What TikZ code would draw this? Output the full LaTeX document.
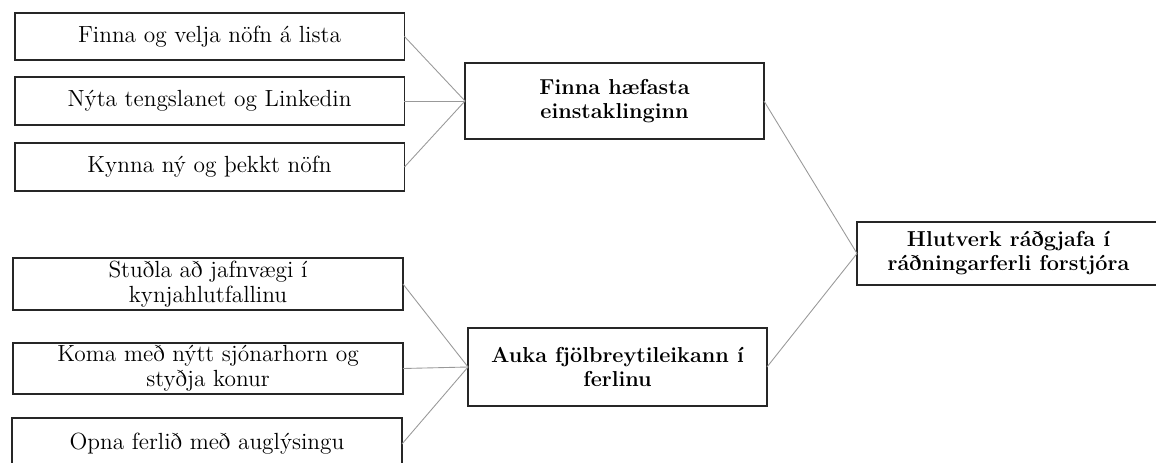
\documentclass[tikz,border=0pt]{standalone}
\usepackage{fontspec}

\begin{document}
\begin{tikzpicture}[
  x=0.02cm, y=-0.02cm,
  leftbox/.style={draw=black!85, line width=1.1pt, inner sep=0pt, outer sep=0pt,
    align=center, font=\fontsize{13.3}{14.3}\selectfont, minimum width=7.8cm},
  midbox/.style={draw=black!85, line width=1.1pt, inner sep=0pt, outer sep=0pt,
    align=center, font=\fontsize{12.3}{13.6}\selectfont\bfseries, minimum width=5.98cm},
  link/.style={draw=gray!80, line width=0.5pt}
]
  \useasboundingbox (0,0) rectangle (1156,463);

  % === Efri hópur ===
  \node[leftbox, minimum height=0.94cm] (b1) at (209.5, 36.5) {Finna og velja nöfn á lista};
  \node[leftbox, minimum height=0.96cm] (b2) at (209.5, 101) {Nýta tengslanet og Linkedin};
  \node[leftbox, minimum height=0.96cm] (b3) at (209.5, 167) {Kynna ný og þekkt nöfn};
  \node[midbox, minimum height=1.52cm] (m1) at (614.5, 101) {Finna hæfasta\\einstaklinginn};

  % === Neðri hópur ===
  \node[leftbox, minimum height=1.04cm] (b4) at (208, 284) {Stuðla að jafnvægi í\\kynjahlutfallinu};
  \node[leftbox, minimum height=1.02cm] (b5) at (208, 368.5) {Koma með nýtt sjónarhorn og\\styðja konur};
  \node[leftbox, minimum height=1.04cm] (b6) at (207, 444) {Opna ferlið með auglýsingu};
  \node[midbox, minimum height=1.56cm] (m2) at (617.5, 367) {Auka fjölbreytileikann í\\ferlinu};

  % === Hlutverk ===
  \node[midbox, minimum width=6.06cm, minimum height=1.26cm] (hr) at (1008.5, 253.5)
    {Hlutverk ráðgjafa í\\ráðningarferli forstjóra};

  % Tengingar
  \draw[link] (b1.east) -- (m1.west);
  \draw[link] (b2.east) -- (m1.west);
  \draw[link] (b3.east) -- (m1.west);
  \draw[link] (b4.east) -- (m2.west);
  \draw[link] (b5.east) -- (m2.west);
  \draw[link] (b6.east) -- (m2.west);
  \draw[link] (m1.east) -- (hr.west);
  \draw[link] (m2.east) -- (hr.west);
\end{tikzpicture}
\end{document}
